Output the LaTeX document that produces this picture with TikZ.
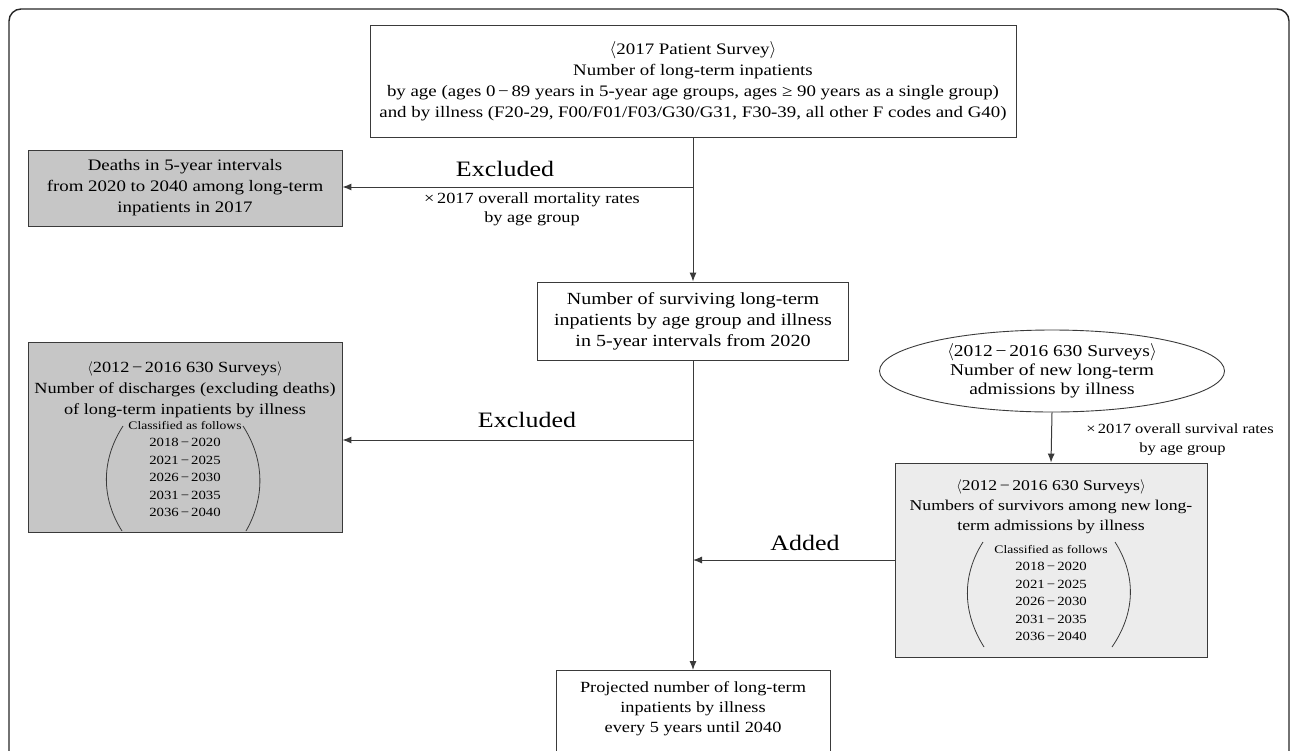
\documentclass[tikz,border=0pt]{standalone}
\usepackage{fontspec}
\setmainfont{Liberation Serif}[FakeStretch=1.18]
\usetikzlibrary{arrows.meta,shapes.geometric}
\definecolor{darkfill}{HTML}{C6C6C6}
\definecolor{lightfill}{HTML}{ECECEC}
\definecolor{edge}{HTML}{3A3A3A}
\newcommand{\lab}{$\langle$}
\newcommand{\rab}{$\rangle$}
\tikzset{
  box/.style={draw=edge, line width=0.9pt, align=center, inner sep=2pt},
  conn/.style={draw=edge, line width=1pt},
  arr/.style={conn, -{Latex[length=9pt,width=7pt]}},
  lbl/.style={font=\fontsize{22}{24}\selectfont, align=center},
  note/.style={align=center},
  paren/.style={draw=edge, line width=0.8pt},
  years/.style={align=center, font=\fontsize{12.5}{17.4}\selectfont}
}
\newcommand{\cls}{{\fontsize{11.5}{14}\selectfont Classified as follows}}
\begin{document}
\begin{tikzpicture}[x=1pt,y=-1pt]
\useasboundingbox (0,0) rectangle (1292,750);
\begin{scope}
\clip (0,0) rectangle (1292,750);
\draw[line width=1.4pt, draw=black!85, rounded corners=12pt] (9,9) rectangle (1289,800);
\end{scope}

% top box
\node[box, font=\fontsize{16}{21}\selectfont, minimum width=646pt, minimum height=112pt] (top) at (693,81)
 {\lab2017 Patient Survey\rab\\
  Number of long-term inpatients\\
  by age (ages 0\,−\,89 years in 5-year age groups, ages ≥ 90 years as a single group)\\
  and by illness (F20-29, F00/F01/F03/G30/G31, F30-39, all other F codes and G40)};

% deaths box
\node[box, font=\fontsize{16}{21}\selectfont, fill=darkfill, minimum width=314pt, minimum height=76pt] (death) at (185,188)
 {Deaths in 5-year intervals\\
  from 2020 to 2040 among long-term\\
  inpatients in 2017};

% surviving box
\node[box, font=\fontsize{17}{21}\selectfont, minimum width=311pt, minimum height=78pt] (surv) at (693,321)
 {Number of surviving long-term\\
  inpatients by age group and illness\\
  in 5-year intervals from 2020};

% discharges box
\node[box, fill=darkfill, minimum width=314pt, minimum height=190pt] (dis) at (185,437) {};
\node[align=center, font=\fontsize{15.5}{21}\selectfont] (dist) at (185,390)
 {\lab2012\,−\,2016 630 Surveys\rab\\
  Number of discharges (excluding deaths)\\
  of long-term inpatients by illness};
\node[years] (disy) at (185,469)
 {\cls\\2018\,−\,2020\\2021\,−\,2025\\2026\,−\,2030\\2031\,−\,2035\\2036\,−\,2040};
\draw[paren] (123,426) .. controls (101,460) and (101,498) .. (122,531);
\draw[paren] (243,426) .. controls (265,460) and (265,498) .. (246,531);

% ellipse
\node[draw=edge, line width=0.9pt, ellipse, minimum width=345pt, minimum height=82pt, inner sep=0pt, align=center, font=\fontsize{16.5}{19}\selectfont] (adm) at (1052,371)
 {\lab2012\,−\,2016 630 Surveys\rab\\
  Number of new long-term\\
  admissions by illness};

% survivors box
\node[box, fill=lightfill, minimum width=312pt, minimum height=194pt] (new) at (1051,560) {};
\node[align=center, font=\fontsize{15}{20}\selectfont] (newt) at (1051,507)
 {\lab2012\,−\,2016 630 Surveys\rab\\
  Numbers of survivors among new long-\\
  term admissions by illness};
\node[years] (newy) at (1051,593)
 {\cls\\2018\,−\,2020\\2021\,−\,2025\\2026\,−\,2030\\2031\,−\,2035\\2036\,−\,2040};
\draw[paren] (983,542) .. controls (962,575) and (962,612) .. (984,647);
\draw[paren] (1115,542) .. controls (1136,575) and (1136,612) .. (1112,647);

% bottom box
\node[box, minimum width=274pt, minimum height=90pt, anchor=north] (proj) at (693,670) {};
\node[align=center, font=\fontsize{15.5}{20}\selectfont] (projt) at (693,709)
 {Projected number of long-term\\
  inpatients by illness\\
  every 5 years until 2040};

% junctions
\coordinate (j1) at (693,187);
\coordinate (j2) at (693,440);
\coordinate (j3) at (693,560);

% connectors
\draw[arr] (top.south) -- (surv.north);
\draw[arr] (j1) -- (death.east |- j1);
\draw[arr] (surv.south) -- (proj.north);
\draw[arr] (j2) -- (dis.east |- j2);
\draw[arr] (new.west |- j3) -- (j3);
\draw[arr] (adm.south) -- (new.north);

% labels
\node[lbl] (l1) at (505,169) {Excluded};
\node[note, font=\fontsize{15.5}{19}\selectfont] (n1) at (532,209) {×\,2017 overall mortality rates\\by age group};
\node[lbl] (l2) at (527,420) {Excluded};
\node[lbl] (l3) at (805,543) {Added};
\node[note, align=right, font=\fontsize{14}{19}\selectfont] (n2) at (1180,440) {×\,2017 overall survival rates\\by age group\hspace*{48pt}};
\end{tikzpicture}
\end{document}
